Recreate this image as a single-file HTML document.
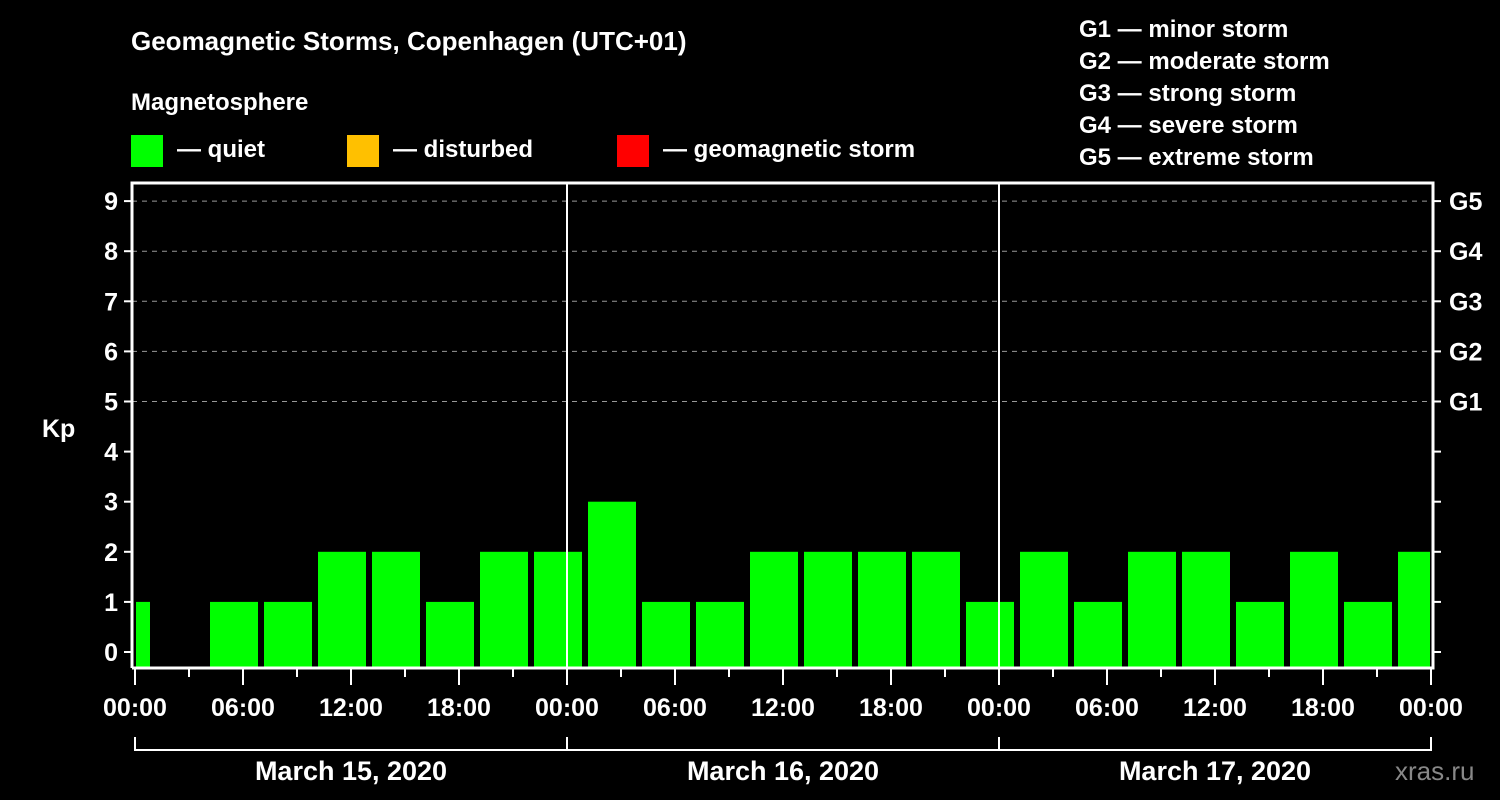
<!DOCTYPE html>
<html><head><meta charset="utf-8"><style>
body{margin:0;background:#000;}
svg{display:block;font-family:"Liberation Sans",Arial,sans-serif;font-weight:bold;}
</style></head><body>
<svg id="chart" width="1500" height="800" viewBox="0 0 1500 800">
<rect width="1500" height="800" fill="#000"/>
<text x="131" y="50" fill="#fff" font-size="26">Geomagnetic Storms, Copenhagen (UTC+01)</text>
<text x="131" y="110" fill="#fff" font-size="24">Magnetosphere</text>
<g><rect x="131" y="135" width="32" height="32" fill="#00ff00"/><text x="177" y="157" fill="#fff" font-size="24">— quiet</text></g>
<g><rect x="347" y="135" width="32" height="32" fill="#ffc000"/><text x="393" y="157" fill="#fff" font-size="24">— disturbed</text></g>
<g><rect x="617" y="135" width="32" height="32" fill="#ff0000"/><text x="663" y="157" fill="#fff" font-size="24">— geomagnetic storm</text></g>
<g fill="#fff" font-size="24">
<text x="1079" y="37">G1 — minor storm</text>
<text x="1079" y="69">G2 — moderate storm</text>
<text x="1079" y="101">G3 — strong storm</text>
<text x="1079" y="133">G4 — severe storm</text>
<text x="1079" y="165">G5 — extreme storm</text>
</g>
<defs><clipPath id="pc"><rect x="136" y="183" width="1294" height="485"/></clipPath></defs>
<g id="grid"></g>
<g id="bars" clip-path="url(#pc)"></g>
<g id="axes"></g>
<text x="1395" y="780" fill="#888" font-size="26" font-weight="normal">xras.ru</text>
</svg>
<script>
const kpValues=[1,0,1,1,2,2,1,2,2,3,1,1,2,2,2,2,1,2,1,2,2,1,2,1,2];
const barStartHours=-2;
const dayLabels=["March 15, 2020","March 16, 2020","March 17, 2020"];
const kpTicks=[0,1,2,3,4,5,6,7,8,9];
const gLabels=["G1","G2","G3","G4","G5"];
const timeLabels=["00:00","06:00","12:00","18:00"];
const NS="http://www.w3.org/2000/svg";
const X0=135,PXH=18,Y0=652,PKP=50.1,BOT=668,L=132,R=1433,T=183;
const x=h=>X0+h*PXH, y=k=>Y0-k*PKP;
function mk(p,tag,a){const e=document.createElementNS(NS,tag);for(const k in a)e.setAttribute(k,a[k]);p.appendChild(e);return e;}
const grid=document.getElementById('grid'),bars=document.getElementById('bars'),ax=document.getElementById('axes');
for(let k=5;k<=9;k++){const l=mk(grid,'line',{x1:L,x2:R,y1:y(k),y2:y(k),stroke:'#999','stroke-width':1,'stroke-dasharray':'5,5'});

}
kpValues.forEach((v,i)=>{if(v<=0)return;const h=barStartHours+3*i;const c=v>=5?'#ff0000':(v>=4?'#ffc000':'#00ff00');
const r=mk(bars,'rect',{x:x(h)+3,y:y(v),width:3*PXH-6,height:BOT-y(v),fill:c});

});
const frame=mk(ax,'path',{d:`M${L} ${BOT}V${T}H${R}V${BOT}H${L}`,fill:'none',stroke:'#fff','stroke-width':3});


for(let d=1;d<dayLabels.length;d++){const l=mk(ax,'line',{x1:x(24*d),x2:x(24*d),y1:T,y2:BOT,stroke:'#fff','stroke-width':2});

}
kpTicks.forEach(k=>{mk(ax,'line',{x1:L-8,x2:L,y1:y(k),y2:y(k),stroke:'#fff','stroke-width':2});
mk(ax,'line',{x1:R,x2:R+8,y1:y(k),y2:y(k),stroke:'#fff','stroke-width':2});
const t=mk(ax,'text',{x:L-14,y:y(k)+9,fill:'#fff','font-size':25,'text-anchor':'end'});t.textContent=k;

});
gLabels.forEach((g,i)=>{const t=mk(ax,'text',{x:R+16,y:y(5+i)+9,fill:'#fff','font-size':25});t.textContent=g;

});
const kp=mk(ax,'text',{x:42,y:437,fill:'#fff','font-size':25});kp.textContent='Kp';


const nd=dayLabels.length;
for(let h=0;h<=24*nd;h+=3){const major=h%6===0;mk(ax,'line',{x1:x(h),x2:x(h),y1:BOT,y2:BOT+(major?17:9),stroke:'#fff','stroke-width':2});
if(major){const t=mk(ax,'text',{x:x(h),y:716,fill:'#fff','font-size':25,'text-anchor':'middle'});t.textContent=timeLabels[(h/6)%4];

}}
dayLabels.forEach((d,i)=>{mk(ax,'path',{d:`M${x(24*i)} 737V750H${x(24*i+24)}V737`,fill:'none',stroke:'#fff','stroke-width':2});
const t=mk(ax,'text',{x:x(24*i+12),y:780,fill:'#fff','font-size':27,'text-anchor':'middle'});t.textContent=d;

});
</script>
</body></html>
